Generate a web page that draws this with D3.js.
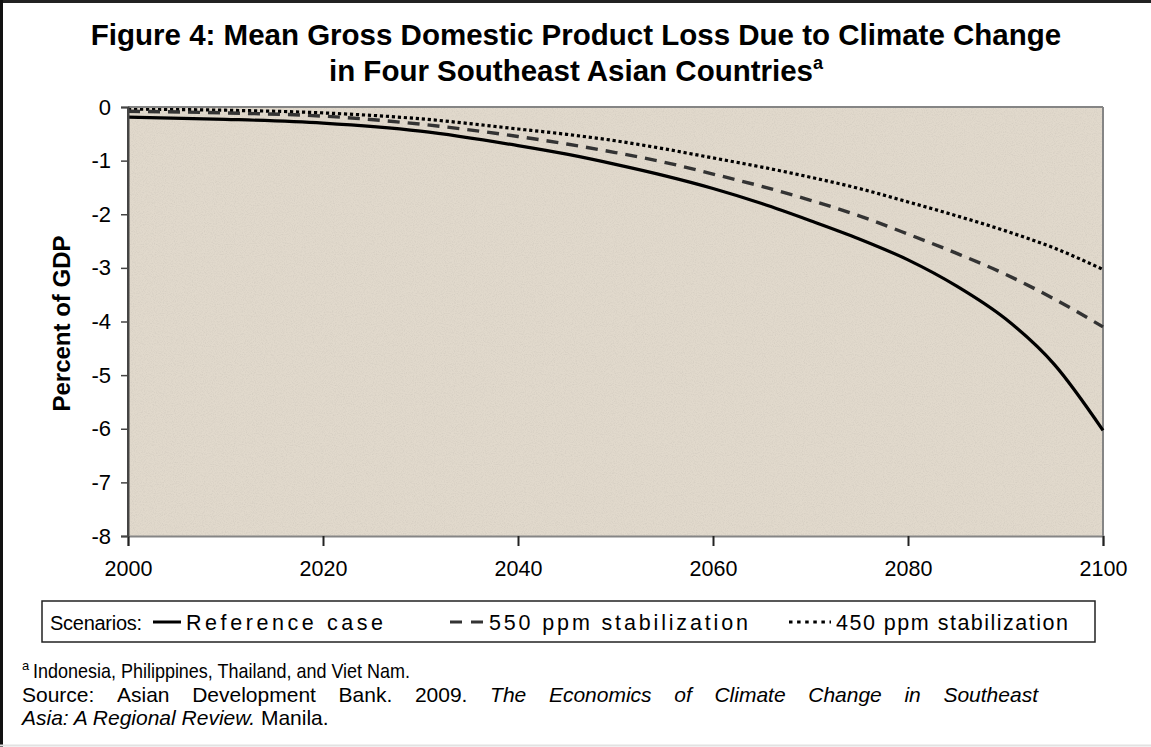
<!DOCTYPE html>
<html>
<head>
<meta charset="utf-8">
<script src="https://cdn.jsdelivr.net/npm/d3@7"></script>
<style>
  html, body { margin: 0; padding: 0; background: #fff; }
  svg { display: block; }
  text { font-family: "Liberation Sans", Arial, sans-serif; fill: #000; }
</style>
</head>
<body>
<script>
// ---- data ----
const years = [2000, 2010, 2020, 2030, 2040, 2045, 2050, 2055, 2060, 2065, 2070, 2075, 2080, 2085, 2090, 2095, 2100];
const referenceCase = [-0.19, -0.23, -0.30, -0.45, -0.72, -0.88, -1.07, -1.28, -1.52, -1.80, -2.12, -2.46, -2.85, -3.34, -3.95, -4.80, -6.03];
const ppm550 = [-0.08, -0.11, -0.17, -0.32, -0.55, -0.69, -0.85, -1.03, -1.25, -1.48, -1.74, -2.03, -2.37, -2.73, -3.12, -3.58, -4.10];
const ppm450 = [-0.04, -0.06, -0.11, -0.22, -0.41, -0.51, -0.63, -0.78, -0.95, -1.12, -1.31, -1.52, -1.77, -2.03, -2.31, -2.63, -3.03];
const seriesNames = ["Reference case", "550 ppm stabilization", "450 ppm stabilization"];
const xTickValues = [2000, 2020, 2040, 2060, 2080, 2100];
const yTickValues = [0, -1, -2, -3, -4, -5, -6, -7, -8];
const titleLines = ["Figure 4: Mean Gross Domestic Product Loss Due to Climate Change", "in Four Southeast Asian Countries"];
const yAxisTitle = "Percent of GDP";
const legendLabel = "Scenarios:";
const footnoteA = "Indonesia, Philippines, Thailand, and Viet Nam.";
const sourceLine1 = [["Source:", false], ["Asian", false], ["Development", false], ["Bank.", false], ["2009.", false],
  ["The", true], ["Economics", true], ["of", true], ["Climate", true], ["Change", true], ["in", true], ["Southeast", true]];
const sourceLine2 = [["Asia: A Regional Review.", true], [" Manila.", false]];

// ---- layout ----
const W = 1151, H = 747;
const plot = { left: 128, right: 1103, top: 107, bottom: 536 };
const FONT = "Liberation Sans, Arial, sans-serif";

const svg = d3.select("body").append("svg").attr("width", W).attr("height", H);

// outer frame
svg.append("line").attr("x1", 0).attr("x2", W).attr("y1", 1.5).attr("y2", 1.5).attr("stroke", "#222").attr("stroke-width", 3);
svg.append("line").attr("x1", 1.5).attr("x2", 1.5).attr("y1", 0).attr("y2", H).attr("stroke", "#111").attr("stroke-width", 3);
svg.append("line").attr("x1", 0).attr("x2", W).attr("y1", H - 1.5).attr("y2", H - 1.5).attr("stroke", "#e2e2e2").attr("stroke-width", 2);

// title
const title = svg.append("text").attr("text-anchor", "middle").attr("font-weight", "bold").attr("font-size", 29.5);
title.append("tspan").attr("x", 576).attr("y", 45).text(titleLines[0]);
const t2 = title.append("tspan").attr("x", 576).attr("y", 81);
t2.append("tspan").text(titleLines[1]);
t2.append("tspan").attr("font-size", 18).attr("dy", -12).text("a");

// scales
const x = d3.scaleLinear().domain([2000, 2100]).range([plot.left, plot.right]);
const y = d3.scaleLinear().domain([0, -8]).range([plot.top, plot.bottom]);

// background texture
const defs = svg.append("defs");
const filt = defs.append("filter").attr("id", "grain").attr("x", 0).attr("y", 0).attr("width", 1).attr("height", 1);
filt.append("feTurbulence").attr("type", "fractalNoise").attr("baseFrequency", 0.9).attr("numOctaves", 2).attr("seed", 3).attr("result", "noise");
filt.append("feColorMatrix").attr("in", "noise").attr("type", "matrix")
  .attr("values", "0 0 0 0 0.45  0 0 0 0 0.42  0 0 0 0 0.38  0 0 0 -1.6 0.9").attr("result", "dots");
filt.append("feComposite").attr("in", "dots").attr("in2", "SourceGraphic").attr("operator", "in").attr("result", "d2");
filt.append("feMerge").selectAll("feMergeNode").data(["SourceGraphic", "d2"]).join("feMergeNode").attr("in", d => d);

svg.append("rect")
  .attr("x", plot.left).attr("y", plot.top)
  .attr("width", plot.right - plot.left).attr("height", plot.bottom - plot.top)
  .attr("fill", "#e1d9cc");
svg.append("rect")
  .attr("x", plot.left).attr("y", plot.top)
  .attr("width", plot.right - plot.left).attr("height", plot.bottom - plot.top)
  .attr("fill", "#e1d9cc").attr("filter", "url(#grain)").attr("opacity", 0.35);

// plot frame (top/right gray)
svg.append("line").attr("x1", plot.left).attr("x2", plot.right).attr("y1", plot.top).attr("y2", plot.top).attr("stroke", "#858585").attr("stroke-width", 2);
svg.append("line").attr("x1", plot.right).attr("x2", plot.right).attr("y1", plot.top).attr("y2", plot.bottom).attr("stroke", "#858585").attr("stroke-width", 2);

// lines
const clip = defs.append("clipPath").attr("id", "clip");
clip.append("rect").attr("x", plot.left).attr("y", plot.top + 1).attr("width", plot.right - plot.left + 2).attr("height", plot.bottom - plot.top);

const lineGen = d3.line().x(d => x(d[0])).y(d => y(d[1])).curve(d3.curveMonotoneX);
const series = [
  { name: seriesNames[0], values: referenceCase, color: "#000", dash: null, width: 3.2, legDash: null },
  { name: seriesNames[1], values: ppm550, color: "#333", dash: "12,8", width: 3.4, legDash: "12,9" },
  { name: seriesNames[2], values: ppm450, color: "#000", dash: "3.2,2.8", width: 3.2, legDash: "3.5,4.6" },
];
const gLines = svg.append("g").attr("clip-path", "url(#clip)");
series.slice().reverse().forEach(s => {
  gLines.append("path")
    .datum(years.map((yr, i) => [yr, s.values[i]]))
    .attr("d", lineGen)
    .attr("fill", "none")
    .attr("stroke", s.color)
    .attr("stroke-width", s.width)
    .attr("stroke-dasharray", s.dash);
});

// axes
const fmt = d => String(d);
const yAxis = svg.append("g").attr("transform", `translate(${plot.left},0)`)
  .call(d3.axisLeft(y).tickValues(yTickValues).tickSize(7).tickPadding(10).tickFormat(fmt));
yAxis.select(".domain").attr("stroke", "#444").attr("stroke-width", 2);
yAxis.selectAll(".tick line").attr("stroke", "#444").attr("stroke-width", 1.5);
yAxis.selectAll(".tick text").attr("font-size", 22).attr("fill", "#000").attr("font-family", FONT);

const xAxis = svg.append("g").attr("transform", `translate(0,${plot.bottom})`)
  .call(d3.axisBottom(x).tickValues(xTickValues).tickSize(10).tickPadding(15).tickFormat(fmt));
xAxis.select(".domain").attr("stroke", "#858585").attr("stroke-width", 2);
xAxis.selectAll(".tick line").attr("stroke", "#222").attr("stroke-width", 2);
xAxis.selectAll(".tick text").attr("font-size", 21.5).attr("fill", "#000").attr("font-family", FONT);
svg.append("line").attr("x1", plot.left).attr("x2", plot.left).attr("y1", plot.top).attr("y2", plot.bottom + 1).attr("stroke", "#444").attr("stroke-width", 2);

// y axis title
svg.append("text")
  .attr("transform", `translate(70,${(plot.top + plot.bottom) / 2 + 2}) rotate(-90)`)
  .attr("text-anchor", "middle").attr("font-weight", "bold").attr("font-size", 24)
  .text(yAxisTitle);

// legend
const lg = svg.append("g");
lg.append("rect").attr("x", 42).attr("y", 601).attr("width", 1053).attr("height", 41)
  .attr("fill", "#fff").attr("stroke", "#222").attr("stroke-width", 1.5);
const legendBase = 630;
lg.append("text").attr("x", 50).attr("y", legendBase).attr("font-size", 20)
  .attr("textLength", 92).attr("lengthAdjust", "spacing").text(legendLabel);
const legendItems = [
  { s: series[0], x1: 153, x2: 181, tx: 186, len: 197 },
  { s: series[1], x1: 450, x2: 485, tx: 489, len: 259 },
  { s: series[2], x1: 789, x2: 831, tx: 836, len: 232 },
];
legendItems.forEach(it => {
  lg.append("line").attr("x1", it.x1).attr("x2", it.x2).attr("y1", legendBase - 8).attr("y2", legendBase - 8)
    .attr("stroke", it.s.color).attr("stroke-width", 3).attr("stroke-dasharray", it.s.legDash);
  lg.append("text").attr("x", it.tx).attr("y", legendBase).attr("font-size", 21.5)
    .attr("textLength", it.len).attr("lengthAdjust", "spacing").text(it.s.name);
});

// footnotes
const fn = svg.append("g");
fn.append("text").attr("x", 22).attr("y", 670).attr("font-size", 13).text("a");
fn.append("text").attr("x", 33).attr("y", 678).attr("font-size", 21)
  .attr("textLength", 377).attr("lengthAdjust", "spacingAndGlyphs").text(footnoteA);

function justify(words, x0, x1, yb) {
  const nodes = words.map(([w, it]) => fn.append("text").attr("y", yb).attr("font-size", 21)
    .attr("font-style", it ? "italic" : "normal").text(w));
  const widths = nodes.map(n => n.node().getComputedTextLength());
  const total = d3.sum(widths);
  const gap = (x1 - x0 - total) / (words.length - 1);
  let cx = x0;
  nodes.forEach((n, i) => { n.attr("x", cx); cx += widths[i] + gap; });
}
justify(sourceLine1, 22, 1038, 702);
const f3 = fn.append("text").attr("x", 22).attr("y", 725).attr("font-size", 21);
sourceLine2.forEach(([w, it]) => f3.append("tspan").attr("font-style", it ? "italic" : "normal").text(w));
</script>
</body>
</html>
